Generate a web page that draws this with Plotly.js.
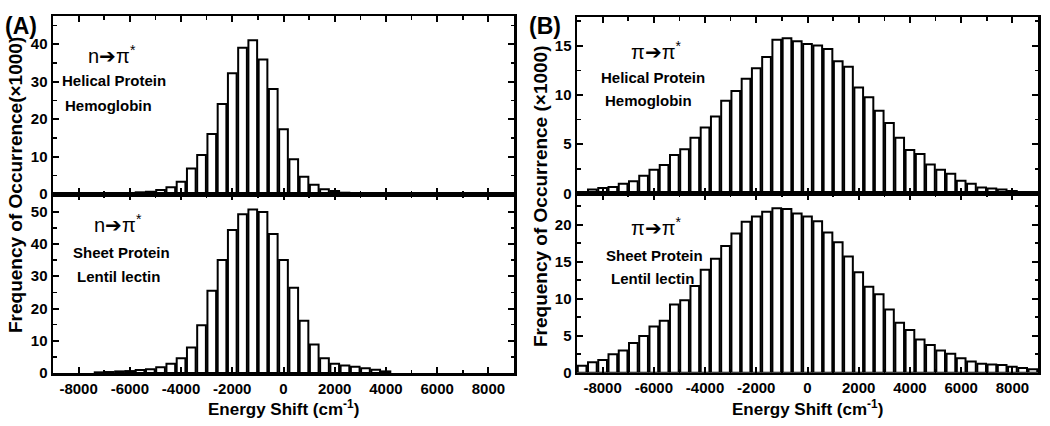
<!DOCTYPE html>
<html>
<head>
<meta charset="utf-8">
<script src="https://cdn.plot.ly/plotly-3.0.1.min.js"></script>
<style>html,body{margin:0;padding:0;background:#fff;}#chart{width:1050px;height:426px;}</style>
</head>
<body>
<div id="chart"></div>
<script>
// ---------- data (frequency of occurrence, x1000) ----------
var centersA_helix = [-6800,-6400,-6000,-5600,-5200,-4800,-4400,-4000,-3600,-3200,-2800,-2400,-2000,-1600,-1200,-800,-400,0,400,800,1200,1600,2000,2400];
var valuesA_helix  = [0.1,0.18,0.27,0.45,0.6,1.07,1.8,3.3,6.8,10.4,16,24,32.2,39,41,35.9,28,17.3,9.3,4.6,2.5,1.25,0.8,0.35];

var centersA_sheet = [-7200,-6800,-6400,-6000,-5600,-5200,-4800,-4400,-4000,-3600,-3200,-2800,-2400,-2000,-1600,-1200,-800,-400,0,400,800,1200,1600,2000,2400,2800,3200,3600,4000];
var valuesA_sheet  = [0.2,0.3,0.5,0.6,0.9,1.2,1.8,2.9,4.6,7.9,14.8,25.5,35,44.3,49.2,50.7,49.9,43.1,35,26.4,16.2,8.8,4.6,2.9,2.3,1.9,1.5,1.0,0.5];

var centersB = [-8800,-8400,-8000,-7600,-7200,-6800,-6400,-6000,-5600,-5200,-4800,-4400,-4000,-3600,-3200,-2800,-2400,-2000,-1600,-1200,-800,-400,0,400,800,1200,1600,2000,2400,2800,3200,3600,4000,4400,4800,5200,5600,6000,6400,6800,7200,7600,8000,8400,8800];
var valuesB_helix = [0.15,0.4,0.55,0.65,1.0,1.25,1.8,2.4,2.9,3.9,4.5,5.65,6.7,7.8,9.4,10.4,11.65,12.7,13.85,15.6,15.75,15.45,15.15,15.0,14.65,13.4,12.85,10.75,9.75,8.4,7.15,5.65,4.4,4.0,2.95,2.4,2.0,1.3,1.0,0.6,0.5,0.4,0.25,0.15,0.08];
var valuesB_sheet = [0.95,1.4,1.7,2.5,3.0,4.0,4.95,6.25,7.0,9.2,9.8,11.7,13.9,15.4,17.1,18.8,20.4,21.1,21.75,22.2,22.1,21.5,21.1,20.45,18.95,17.6,15.7,13.55,11.6,10.6,8.55,6.75,5.75,4.5,3.75,3.0,2.55,1.95,1.5,1.2,1.1,1.05,0.8,0.65,0.45];

// ---------- tick labels ----------
var xTickVals = [-8000,-6000,-4000,-2000,0,2000,4000,6000,8000];
var xTickText = ["-8000","-6000","-4000","-2000","0","2000","4000","6000","8000"];
var xMinorVals = [-7000,-5000,-3000,-1000,1000,3000,5000,7000];
var yA_top_vals = [0,10,20,30,40];
var yA_top_minor = [5,15,25,35,45];
var yA_bot_vals = [0,10,20,30,40,50];
var yA_bot_minor = [5,15,25,35,45,55];
var yB_top_vals = [0,5,10,15];
var yB_top_minor = [2.5,7.5,12.5,17.5];
var yB_bot_vals = [0,5,10,15,20];
var yB_bot_minor = [2.5,7.5,12.5,17.5,22.5];

var FONT = "Liberation Sans, Arial, sans-serif";
var W = 1050, H = 426;
function px(x){return x/W;}
function py(y){return 1 - y/H;}

function barTrace(x, y, xa, ya){
  return {type:'bar', x:x, y:y, xaxis:xa, yaxis:ya, width:340,
          marker:{color:'#ffffff', line:{color:'#000000', width:2}},
          hoverinfo:'x+y'};
}
var data = [
  barTrace(centersA_helix, valuesA_helix, 'x', 'y'),
  barTrace(centersA_sheet, valuesA_sheet, 'x2', 'y2'),
  barTrace(centersB, valuesB_helix, 'x3', 'y3'),
  barTrace(centersB, valuesB_sheet, 'x4', 'y4')
];

function xAxis(domain, anchor, labels){
  return {domain:domain, anchor:anchor, range:[-9000,9000], tickmode:'array',
    tickvals:xTickVals, ticktext:xTickText, showticklabels:labels,
    ticks:'inside', ticklen:6, tickwidth:2, tickcolor:'#000',
    minor:{tickmode:'array', tickvals:xMinorVals, ticks:'inside', ticklen:3.5, tickwidth:1.5, tickcolor:'#000'},
    showline:true, linewidth:2.5, linecolor:'#000', mirror:'allticks',
    showgrid:false, zeroline:false,
    tickfont:{family:FONT, size:15, color:'#000', weight:'bold'}};
}
function yAxis(domain, anchor, range, vals, minor){
  return {domain:domain, anchor:anchor, range:range, tickmode:'array',
    tickvals:vals, ticktext:vals.map(String),
    ticks:'inside', ticklen:6, tickwidth:2, tickcolor:'#000',
    minor:{tickmode:'array', tickvals:minor, ticks:'inside', ticklen:3.5, tickwidth:1.5, tickcolor:'#000'},
    showline:true, linewidth:2.5, linecolor:'#000', mirror:'allticks',
    showgrid:false, zeroline:false,
    tickfont:{family:FONT, size:15, color:'#000', weight:'bold'}};
}

var xA = [px(53), px(514)], xB = [px(577), px(1038)];
var yAtop = [py(194), py(16)], yAbot = [py(373), py(194)];
var yBtop = [py(193.5), py(17)], yBbot = [py(372.7), py(193.5)];

function ann(text, x, y, size, bold, extra){
  var a = {text:text, x:px(x), y:py(y), xref:'paper', yref:'paper', showarrow:false,
    xanchor:'center', yanchor:'middle',
    font:{family:FONT, size:size, color:'#000', weight: bold ? 'bold' : 'normal'}};
  if(extra){for(var k in extra){a[k]=extra[k];}}
  return a;
}
var ARROW = '\u2794';
var annotations = [
  ann('(A)', 21, 26, 23, true),
  ann('(B)', 545, 26, 23, true),
  ann('n' + ARROW + '\u03c0<sup>*</sup>', 112, 55, 20, false),
  ann('Helical Protein', 114, 81, 15, true),
  ann('Hemoglobin', 108, 105, 15, true),
  ann('n' + ARROW + '\u03c0<sup>*</sup>', 118, 223, 20, false),
  ann('Sheet Protein', 121, 252, 15, true),
  ann('Lentil lectin', 118, 276, 15, true),
  ann('\u03c0' + ARROW + '\u03c0<sup>*</sup>', 656, 50, 20, false),
  ann('Helical Protein', 653, 77, 15, true),
  ann('Hemoglobin', 648, 101, 15, true),
  ann('\u03c0' + ARROW + '\u03c0<sup>*</sup>', 656, 226, 20, false),
  ann('Sheet Protein', 654, 255, 15, true),
  ann('Lentil lectin', 652, 278, 15, true),
  ann('Energy Shift (cm<sup>-1</sup>)', 283, 408, 17, true),
  ann('Energy Shift (cm<sup>-1</sup>)', 807, 408, 17, true),
  ann('Frequency of Occurrence(\u00d71000)', 16, 185, 19, true, {textangle:-90}),
  ann('Frequency of Occurrence (\u00d71000)', 540, 196, 19, true, {textangle:-90})
];

var layout = {
  width:W, height:H, margin:{l:0,r:0,t:0,b:0},
  paper_bgcolor:'#fff', plot_bgcolor:'#fff', showlegend:false,
  xaxis: xAxis(xA, 'y', false),
  xaxis2: xAxis(xA, 'y2', true),
  xaxis3: xAxis(xB, 'y3', false),
  xaxis4: xAxis(xB, 'y4', true),
  yaxis: yAxis(yAtop, 'x', [0,47.5], yA_top_vals, yA_top_minor),
  yaxis2: yAxis(yAbot, 'x2', [0,55.5], yA_bot_vals, yA_bot_minor),
  yaxis3: yAxis(yBtop, 'x3', [0,17.9], yB_top_vals, yB_top_minor),
  yaxis4: yAxis(yBbot, 'x4', [0,24.2], yB_bot_vals, yB_bot_minor),
  annotations: annotations
};
Plotly.newPlot('chart', data, layout, {displayModeBar:false, staticPlot:true});
</script>
</body>
</html>
